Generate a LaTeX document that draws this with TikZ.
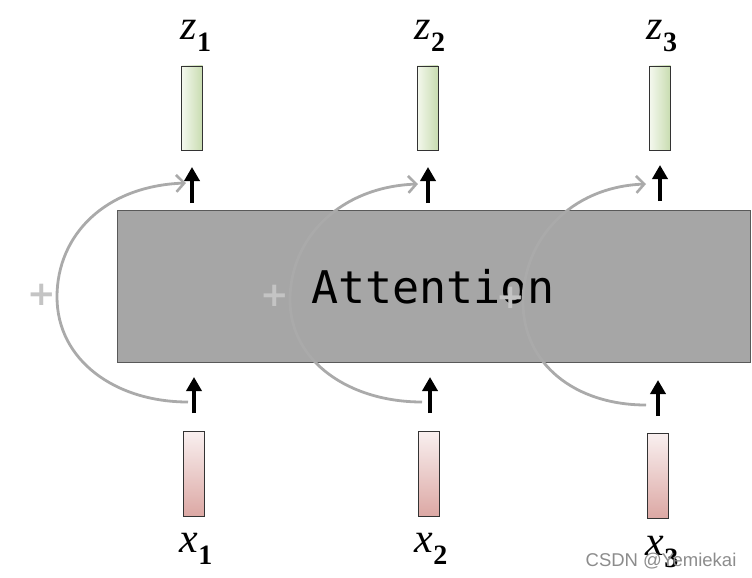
\documentclass[tikz,border=0pt]{standalone}
\usepackage{fontspec}
\setmainfont{Liberation Serif}
\newfontfamily\monofont{DejaVu Sans Mono}
\newfontfamily\plusfont{DejaVu Sans}
\newfontfamily\wmfont{Liberation Sans}
\usetikzlibrary{arrows.meta}
\definecolor{boxgray}{HTML}{A6A6A6}
\definecolor{boxedge}{HTML}{595959}
\definecolor{curvegray}{HTML}{AAAAAA}
\definecolor{plusgray}{HTML}{C4C4C4}
\definecolor{zleft}{HTML}{F4F8EE}
\definecolor{zright}{HTML}{C8DCB0}
\definecolor{xtop}{HTML}{F9F0F0}
\definecolor{xbot}{HTML}{DCA8A4}
\tikzset{
  zbar/.style={draw=black!80, line width=0.9pt, left color=zleft, right color=zright, minimum width=21pt, minimum height=84pt, inner sep=0pt},
  xbar/.style={draw=black!80, line width=0.9pt, top color=xtop, bottom color=xbot, minimum width=21pt, minimum height=85pt, inner sep=0pt},
  lab/.style={font=\fontsize{42}{42}\selectfont\itshape, inner sep=0pt},
  blackarrow/.style={line width=3.6pt, -{Triangle[length=14pt,width=15pt]}},
  resarrow/.style={line width=2.8pt, curvegray, -{Straight Barb[length=8pt,width=17pt,line width=2.6pt]}},
  plusmark/.style={text=plusgray, font=\fontsize{34}{34}\selectfont\bfseries\plusfont, inner sep=0pt}
}
\newcommand{\sub}[1]{\raisebox{-0.3em}{\upshape\bfseries\fontsize{28}{28}\selectfont #1}}
\begin{document}
\begin{tikzpicture}[x=1pt,y=-1pt]
\useasboundingbox (0,0) rectangle (752,578);
% attention box
\node[draw=boxedge, line width=1pt, fill=boxgray, minimum width=633pt, minimum height=152pt, inner sep=0pt, anchor=north west] (att) at (117,210) {};
\node[font=\fontsize{45}{45}\selectfont\monofont, inner sep=0pt] (atttext) at (433,287) {Attention};
% output bars and labels
\node[zbar] (z1) at (192,108) {};
\node[zbar] (z2) at (427.5,108) {};
\node[zbar] (z3) at (660,108) {};
\node[lab] (lz1) at (196,36) {z\sub{1}};
\node[lab] (lz2) at (430,36) {z\sub{2}};
\node[lab] (lz3) at (662,36) {z\sub{3}};
% input bars and labels
\node[xbar] (x1) at (193.5,473.5) {};
\node[xbar] (x2) at (428.5,473.5) {};
\node[xbar] (x3) at (658,475.5) {};
\node[lab] (lx1) at (196,549) {x\sub{1}};
\node[lab] (lx2) at (431,549) {x\sub{2}};
\node[lab] (lx3) at (662,552) {x\sub{3}};
% arrow coordinates
\coordinate (b1s) at (194,413); \coordinate (b1e) at (194,377);
\coordinate (b2s) at (430,413); \coordinate (b2e) at (430,377);
\coordinate (b3s) at (658,416); \coordinate (b3e) at (658,380);
\coordinate (t1s) at (192,203); \coordinate (t1e) at (192,167);
\coordinate (t2s) at (428,203); \coordinate (t2e) at (428,167);
\coordinate (t3s) at (660,201); \coordinate (t3e) at (660,165);
\draw[blackarrow] (b1s) -- (b1e);
\draw[blackarrow] (b2s) -- (b2e);
\draw[blackarrow] (b3s) -- (b3e);
\draw[blackarrow] (t1s) -- (t1e);
\draw[blackarrow] (t2s) -- (t2e);
\draw[blackarrow] (t3s) -- (t3e);
% residual curves
\coordinate (r1s) at (188,402); \coordinate (r1m) at (57,297); \coordinate (r1e) at (186,183);
\coordinate (r2s) at (422,402); \coordinate (r2m) at (290,300); \coordinate (r2e) at (418,184);
\coordinate (r3s) at (646,405); \coordinate (r3m) at (523,302); \coordinate (r3e) at (646,184);
\draw[resarrow] (r1s) .. controls (115,402) and (57,360) .. (r1m) .. controls (57,235) and (105,186) .. (r1e);
\draw[resarrow] (r2s) .. controls (350,402) and (290,362) .. (r2m) .. controls (290,238) and (340,187) .. (r2e);
\draw[resarrow] (r3s) .. controls (575,405) and (523,364) .. (r3m) .. controls (523,240) and (570,187) .. (r3e);
% plus signs
\node[plusmark] (p1) at (42,295) {+};
\node[plusmark] (p2) at (275,296) {+};
\node[plusmark] (p3) at (511,298) {+};
% watermark
\node[text=black!45, font=\fontsize{18.5}{18.5}\selectfont\wmfont, inner sep=0pt] (wm) at (661,561) {CSDN @Yemiekai};
\end{tikzpicture}
\end{document}
